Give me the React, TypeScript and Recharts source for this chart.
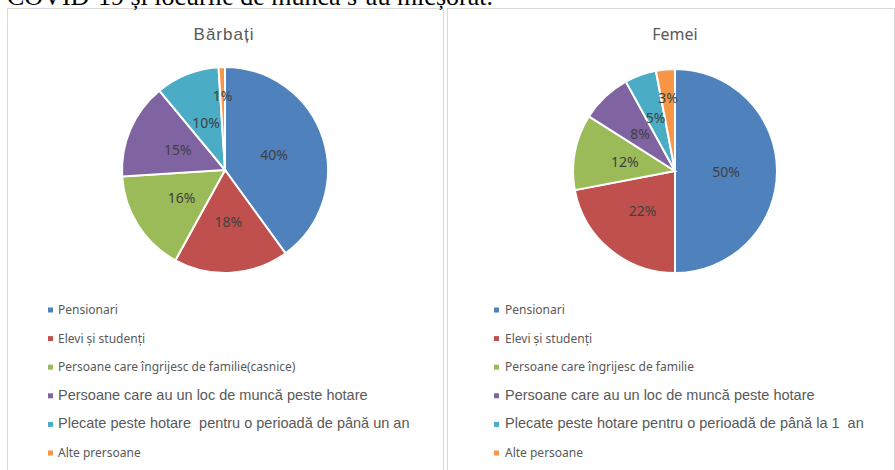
import React from 'react';
import { PieChart, Pie, Cell } from 'recharts';

const HEADING = 'COVID-19 și locurile de muncă s-au micșorat.';
const TITLE_MEN = 'Bărbați';
const TITLE_WOMEN = 'Femei';

const CATEGORIES_MEN = [
  'Pensionari',
  'Elevi și studenți',
  'Persoane care îngrijesc de familie(casnice)',
  'Persoane care au un loc de muncă peste hotare',
  'Plecate peste hotare  pentru o perioadă de până un an',
  'Alte prersoane',
];
const CATEGORIES_WOMEN = [
  'Pensionari',
  'Elevi și studenți',
  'Persoane care îngrijesc de familie',
  'Persoane care au un loc de muncă peste hotare',
  'Plecate peste hotare pentru o perioadă de până la 1  an',
  'Alte persoane',
];
const VALUES_MEN = [40, 18, 16, 15, 10, 1];
const VALUES_WOMEN = [50, 22, 12, 8, 5, 3];

const COLORS = ['#4F81BD', '#C0504D', '#9BBB59', '#8064A2', '#4BACC6', '#F79646'];
const LEGEND_BIG = [false, false, false, true, true, false];

const menData = CATEGORIES_MEN.map((name, i) => ({ name, value: VALUES_MEN[i] }));
const womenData = CATEGORIES_WOMEN.map((name, i) => ({ name, value: VALUES_WOMEN[i] }));

const RAD = Math.PI / 180;
const renderLabel = (p: any) => {
  const { cx, cy, midAngle, outerRadius, percent, value } = p;
  const ang = percent * 2 * Math.PI;
  const rr = Math.min(Math.max(18 / ang, 0.5 * outerRadius), 0.72 * outerRadius);
  const x = cx + rr * Math.cos(-midAngle * RAD);
  const y = cy + rr * Math.sin(-midAngle * RAD);
  return (
    <text
      x={x}
      y={y}
      textAnchor="middle"
      dominantBaseline="central"
      fill="#404040"
      fontSize={14}
      fontFamily="Noto Sans"
    >
      {value}%
    </text>
  );
};

const Legend = ({ names, markerX, textX }: { names: string[]; markerX: number; textX: number }) => (
  <g>
    {names.map((n, i) => {
      const base = 314 + i * 28.6;
      return (
        <g key={n}>
          <rect x={markerX} y={base - 6.5} width={5} height={5} fill={COLORS[i]} />
          <text
            x={textX}
            y={base}
            fill="#595959"
            fontFamily={LEGEND_BIG[i] ? 'Liberation Sans' : 'Noto Sans'}
            fontSize={LEGEND_BIG[i] ? 14.5 : 12}
            style={{ whiteSpace: 'pre' }}
          >
            {n}
          </text>
        </g>
      );
    })}
  </g>
);

export default function App() {
  return (
    <div
      style={{
        position: 'absolute',
        left: 0,
        top: 0,
        width: 895,
        height: 470,
        overflow: 'hidden',
        background: '#fff',
      }}
    >
      <div
        style={{
          position: 'absolute',
          left: 7,
          top: 8,
          width: 437,
          height: 480,
          boxSizing: 'border-box',
          border: '1px solid #D9D9D9',
        }}
      />
      <div
        style={{
          position: 'absolute',
          left: 447,
          top: 8,
          width: 448,
          height: 480,
          boxSizing: 'border-box',
          border: '1px solid #D9D9D9',
        }}
      />
      <div style={{ position: 'absolute', left: 7, top: 0 }}>
        <PieChart width={437} height={300} margin={{ top: 0, right: 0, bottom: 0, left: 0 }}>
          <Pie
            data={menData}
            dataKey="value"
            nameKey="name"
            cx={218}
            cy={170}
            outerRadius={103}
            startAngle={90}
            endAngle={-270}
            stroke="#fff"
            strokeWidth={2}
            label={renderLabel}
            labelLine={false}
            isAnimationActive={false}
          >
            {menData.map((d, i) => (
              <Cell key={d.name} fill={COLORS[i]} />
            ))}
          </Pie>
        </PieChart>
      </div>
      <div style={{ position: 'absolute', left: 447, top: 0 }}>
        <PieChart width={448} height={300} margin={{ top: 0, right: 0, bottom: 0, left: 0 }}>
          <Pie
            data={womenData}
            dataKey="value"
            nameKey="name"
            cx={228}
            cy={171}
            outerRadius={102}
            startAngle={90}
            endAngle={-270}
            stroke="#fff"
            strokeWidth={2}
            label={renderLabel}
            labelLine={false}
            isAnimationActive={false}
          >
            {womenData.map((d, i) => (
              <Cell key={d.name} fill={COLORS[i]} />
            ))}
          </Pie>
        </PieChart>
      </div>
      <svg
        width={895}
        height={470}
        style={{ position: 'absolute', left: 0, top: 0, pointerEvents: 'none' }}
      >
        <text x={7} y={5} fontFamily="Liberation Serif" fontSize={26} fill="#000">
          {HEADING}
        </text>
        <text
          x={224}
          y={40}
          textAnchor="middle"
          fontFamily="Liberation Sans"
          fontSize={17}
          letterSpacing={1}
          fill="#595959"
        >
          {TITLE_MEN}
        </text>
        <text x={675} y={40} textAnchor="middle" fontFamily="Noto Sans" fontSize={16} fill="#595959">
          {TITLE_WOMEN}
        </text>
        <Legend names={CATEGORIES_MEN} markerX={48} textX={58} />
        <Legend names={CATEGORIES_WOMEN} markerX={494} textX={505} />
      </svg>
    </div>
  );
}
